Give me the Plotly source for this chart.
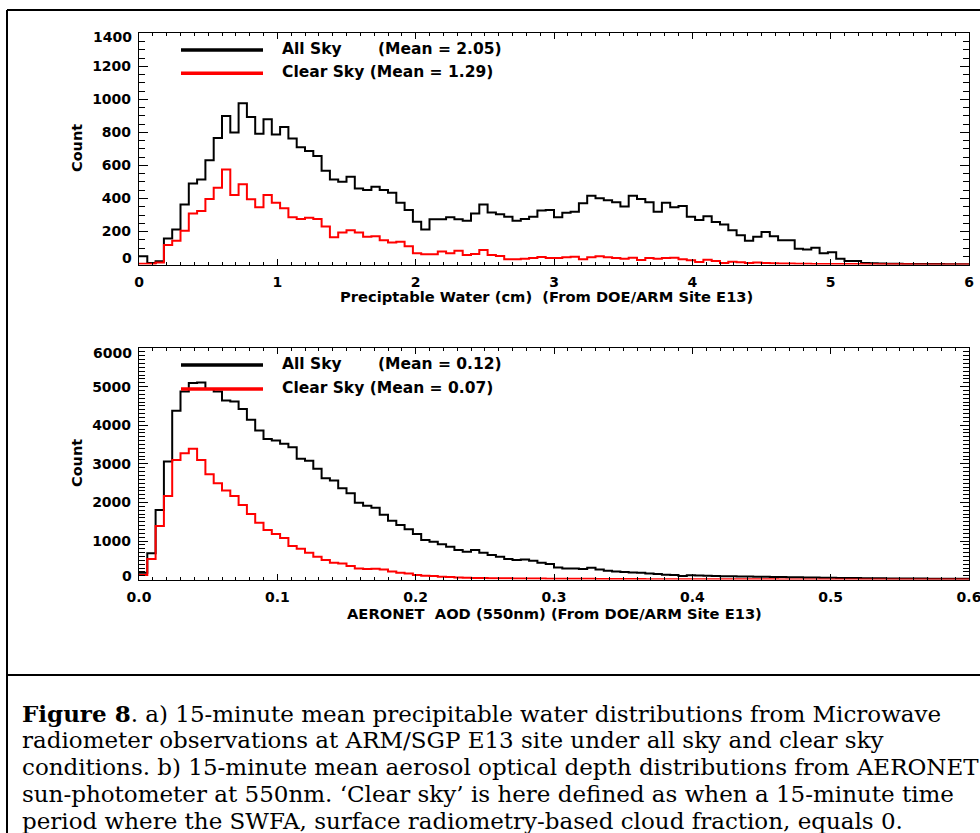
import numpy as np
import plotly.graph_objects as go

# ---------------- data ----------------
# Panel a: precipitable water histogram (bin width 0.06 cm, 0..6 cm)
pw_edges = np.linspace(0.0, 6.0, 101)
pw_all = [50, 10, 20, 158, 213, 364, 491, 515, 632, 767, 900, 800, 977, 893, 792, 880, 788, 833, 764, 710,
          688, 657, 568, 515, 501, 532, 461, 451, 471,
          451, 435, 375, 330, 260, 213, 274, 274, 286, 274, 266, 310, 364, 316, 304, 290, 266, 276, 290, 327,
          330, 286, 314, 320, 371, 417, 401, 389, 377, 351, 417, 397, 377, 320, 375, 347, 354,
          289, 270, 292, 258, 242, 208, 178, 144, 168, 198, 172, 148, 148, 96, 92, 102, 68, 74, 36, 22, 22,
          10, 8, 6, 5, 5, 4, 4, 3, 3, 3, 2, 2, 2]
pw_clear = [5, 5, 13, 118, 144, 205, 310, 324, 397, 465, 576, 422, 487, 395, 347, 422, 375, 341, 286, 276,
            284, 276, 230, 165, 194, 208, 194, 168, 172,
            148, 134, 138, 111, 68, 62, 62, 80, 68, 84, 58, 64, 88, 58, 52, 32, 32, 36, 40, 46,
            40, 40, 44, 48, 32, 44, 50, 44, 40, 36, 42, 28, 40, 36, 40, 42, 32,
            26, 16, 30, 22, 10, 18, 14, 10, 12, 10, 8, 6, 6, 5, 5, 4, 4, 4, 3, 3,
            3, 2, 2, 2, 2, 2, 2, 1, 1, 1, 1, 1, 1, 1]

# Panel b: AERONET AOD histogram (bin width 0.006, 0..0.6)
aod_edges = np.linspace(0.0, 0.6, 101)
aod_all = [180, 680, 1805, 3060, 4376, 4878, 5095, 5110, 4939, 4878, 4644, 4618, 4419, 4142, 3865, 3641,
           3606, 3519, 3433, 3130, 3078, 2870, 2628, 2568, 2368, 2238, 1995, 1917, 1860,
           1680, 1527, 1415, 1303, 1182, 1026, 983, 914, 853, 767, 723, 767, 697, 636, 593, 532, 506, 524,
           489, 437, 402, 316, 290, 290, 272, 307, 264, 229, 212, 194, 186, 177, 160, 142, 125, 117, 91,
           110, 105, 100, 95, 90, 86, 82, 78, 74, 71, 68, 65, 62, 58, 55, 52, 49, 46, 43, 41,
           39, 37, 35, 33, 31, 30, 28, 27, 26, 25, 24, 23, 22, 21]
aod_clear = [120, 532, 1389, 2168, 3103, 3277, 3393, 3103, 2732, 2498, 2307, 2168, 1935, 1701, 1476, 1285,
             1182, 1078, 870, 801, 697, 593, 506, 437, 420, 351, 290, 272, 280,
             264, 212, 177, 160, 117, 100, 91, 74, 65, 56, 45, 42, 40, 38, 35, 33, 31, 30, 28, 26,
             25, 24, 22, 21, 20, 19, 18, 17, 16, 15, 14, 13, 12, 12, 11, 10, 10,
             9, 9, 8, 8, 8, 7, 7, 7, 6, 6, 6, 5, 5, 5, 5, 4, 4, 4, 4, 4,
             3, 3, 3, 3, 3, 3, 2, 2, 2, 2, 2, 2, 2, 2]

pw_ticks = [0, 1, 2, 3, 4, 5, 6]
pw_ticklabels = ["0", "1", "2", "3", "4", "5", "6"]
aod_ticks = [0.0, 0.1, 0.2, 0.3, 0.4, 0.5, 0.6]
aod_ticklabels = ["0.0", "0.1", "0.2", "0.3", "0.4", "0.5", "0.6"]
count_ticks_a = [0, 200, 400, 600, 800, 1000, 1200, 1400]
count_ticks_b = [0, 1000, 2000, 3000, 4000, 5000, 6000]

legend_a = [("All Sky", "(Mean = 2.05)", "black"), ("Clear Sky (Mean = 1.29)", "", "red")]
legend_b = [("All Sky", "(Mean = 0.12)", "black"), ("Clear Sky (Mean = 0.07)", "", "red")]

caption_lines = [
    "<b>Figure 8</b>. a) 15-minute mean precipitable water distributions from Microwave",
    "radiometer observations at ARM/SGP E13 site under all sky and clear sky",
    "conditions. b) 15-minute mean aerosol optical depth distributions from AERONET",
    "sun-photometer at 550nm. \u2018Clear sky\u2019 is here defined as when a 15-minute time",
    "period where the SWFA, surface radiometry-based cloud fraction, equals 0.",
]

# ---------------- layout helpers ----------------
W, H = 980, 833


def px(x):
    return x / W


def py(y):
    return 1 - y / H


BOLD = "DejaVu Sans"


def step(edges, vals):
    return list(edges), list(vals) + [vals[-1]]


fig = go.Figure()

for edges, vals, color, xa, ya in [
    (pw_edges, pw_all, "black", "x", "y"),
    (pw_edges, pw_clear, "red", "x", "y"),
    (aod_edges, aod_all, "black", "x2", "y2"),
    (aod_edges, aod_clear, "red", "x2", "y2"),
]:
    xs, ys = step(edges, vals)
    fig.add_trace(go.Scatter(x=xs, y=ys, mode="lines", line=dict(color=color, width=2, shape="hv"),
                             xaxis=xa, yaxis=ya, showlegend=False, hoverinfo="skip"))

tickfont = dict(family=BOLD, size=14, color="black", weight="bold")
common = dict(showline=True, linecolor="black", linewidth=1.2, mirror="ticks", ticks="inside",
              tickcolor="black", tickwidth=1, showgrid=False, zeroline=False, tickfont=tickfont,
              automargin=False, ticklabeloverflow="allow")


def inner_labels(vals):
    # end labels are drawn separately (nudged inward, as in the original)
    return [""] + [str(v) for v in vals[1:-1]] + [""]


fig.update_layout(
    width=W, height=H, margin=dict(l=0, r=0, t=0, b=0, pad=0, autoexpand=False),
    paper_bgcolor="white", plot_bgcolor="white", showlegend=False,
    xaxis=dict(domain=[px(139), px(969)], range=[0, 6], anchor="y", tickvals=pw_ticks,
               ticktext=pw_ticklabels, ticklen=6, ticklabelstandoff=4,
               minor=dict(dtick=0.1, ticklen=3, ticks="inside", tickcolor="black", tickwidth=1), **common),
    yaxis=dict(domain=[py(264.6), py(33.3)], range=[0, 1400], anchor="x", tickvals=count_ticks_a,
               ticktext=inner_labels(count_ticks_a), ticklen=9, ticklabelstandoff=4,
               minor=dict(dtick=50, ticklen=6, ticks="inside", tickcolor="black", tickwidth=1), **common),
    xaxis2=dict(domain=[px(139), px(969)], range=[0, 0.6], anchor="y2", tickvals=aod_ticks,
                ticktext=aod_ticklabels, ticklen=6, ticklabelstandoff=4,
                minor=dict(dtick=0.01, ticklen=3, ticks="inside", tickcolor="black", tickwidth=1), **common),
    yaxis2=dict(domain=[py(579.6), py(348.1)], range=[0, 6000], anchor="x2", tickvals=count_ticks_b,
                ticktext=inner_labels(count_ticks_b), ticklen=9, ticklabelstandoff=4,
                minor=dict(dtick=100, ticklen=6, ticks="inside", tickcolor="black", tickwidth=1), **common),
)

shapes = []
annotations = []

# end tick labels of the count axes, nudged inward
for ticks, ya, lo_y, hi_y in [(count_ticks_a, "y", 258, 37), (count_ticks_b, "y2", 575.5, 353)]:
    for val, yy in [(ticks[0], lo_y), (ticks[-1], hi_y)]:
        annotations.append(dict(x=px(134), y=py(yy), xref="paper", yref="paper", text=str(val),
                                showarrow=False, xanchor="right", yanchor="middle", font=tickfont))

# legends
leg_font = dict(family=BOLD, size=15.5, color="black", weight="bold")
for legend, ys in [(legend_a, (50, 73.3)), (legend_b, (365, 389))]:
    for (label, mean, color), yy in zip(legend, ys):
        shapes.append(dict(type="line", xref="paper", yref="paper", x0=px(181), x1=px(263),
                           y0=py(yy), y1=py(yy), line=dict(color=color, width=3.5), layer="above"))
        annotations.append(dict(x=px(280), y=py(yy - 1), xref="paper", yref="paper", text=label,
                                showarrow=False, xanchor="left", yanchor="middle", font=leg_font))
        if mean:
            annotations.append(dict(x=px(376), y=py(yy - 1), xref="paper", yref="paper", text=mean,
                                    showarrow=False, xanchor="left", yanchor="middle", font=leg_font))

# axis titles
title_font = dict(family=BOLD, size=14.7, color="black", weight="bold")
annotations.append(dict(x=px(546), y=py(297), xref="paper", yref="paper",
                        text="Preciptable Water (cm) \u00a0(From DOE/ARM Site E13)", showarrow=False,
                        xanchor="center", yanchor="middle", font=title_font))
annotations.append(dict(x=px(554), y=py(613), xref="paper", yref="paper",
                        text="AERONET \u00a0AOD (550nm) (From DOE/ARM Site E13)", showarrow=False,
                        xanchor="center", yanchor="middle", font=title_font))
for yy in (148, 463):
    annotations.append(dict(x=px(77), y=py(yy), xref="paper", yref="paper", text="Count",
                            showarrow=False, textangle=-90, xanchor="center", yanchor="middle",
                            font=dict(family=BOLD, size=14.5, color="black", weight="bold")))

# caption
cap_y = [713, 740, 767, 794, 821]
for line, yy in zip(caption_lines, cap_y):
    annotations.append(dict(x=px(20), y=py(yy), xref="paper", yref="paper", text=line, showarrow=False,
                            xanchor="left", yanchor="middle",
                            font=dict(family="DejaVu Serif", size=23, color="black")))

# outer frame and caption box line
frame = dict(color="black", width=2)
shapes.append(dict(type="line", xref="paper", yref="paper", x0=px(7), x1=px(7), y0=py(10), y1=0, line=frame))
shapes.append(dict(type="line", xref="paper", yref="paper", x0=px(7), x1=1, y0=py(10), y1=py(10), line=frame))
shapes.append(dict(type="line", xref="paper", yref="paper", x0=px(7), x1=1, y0=py(675), y1=py(675), line=frame))

fig.update_layout(shapes=shapes, annotations=annotations)
fig.write_html("out.html", config={"responsive": False, "displayModeBar": False})

# remove the default page margin so the figure starts at the window corner
with open("out.html", "r", encoding="utf-8") as f:
    html = f.read()
html = html.replace("<head>", "<head><style>html,body{margin:0;padding:0;overflow:hidden;}</style>", 1)
with open("out.html", "w", encoding="utf-8") as f:
    f.write(html)
